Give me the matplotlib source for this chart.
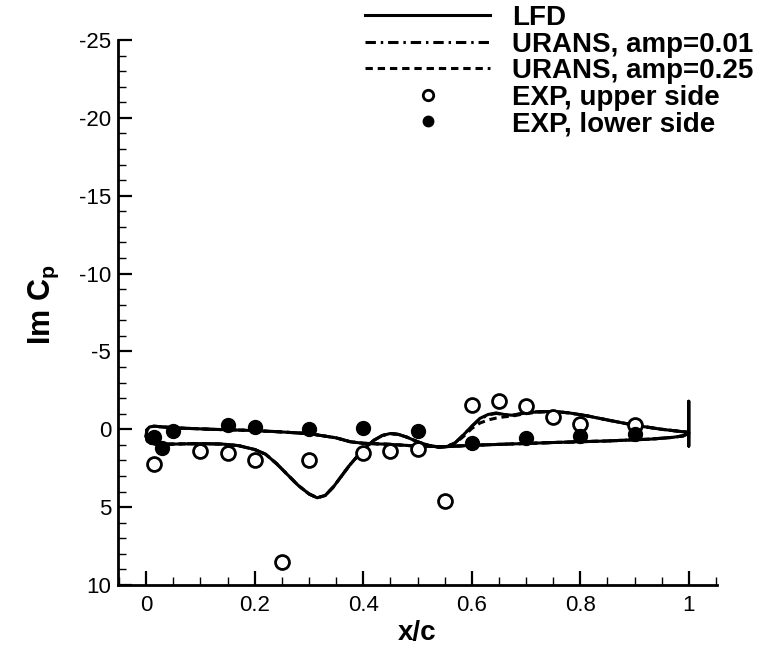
import matplotlib
matplotlib.use("Agg")
import matplotlib.pyplot as plt
from matplotlib.ticker import MultipleLocator, FuncFormatter

plt.rcParams["font.family"] = ["Liberation Sans", "DejaVu Sans"]
plt.rcParams["axes.unicode_minus"] = False
plt.rcParams["mathtext.fontset"] = "custom"
plt.rcParams["mathtext.rm"] = "Liberation Sans"
plt.rcParams["mathtext.bf"] = "Liberation Sans:bold"

# Upper surface, leading edge -> trailing edge
x_upper = [0.000, 0.002, 0.008, 0.02, 0.05, 0.10, 0.14, 0.17, 0.20, 0.22, 0.24, 0.26,
           0.28, 0.30, 0.315, 0.33, 0.345, 0.36, 0.375, 0.39, 0.405, 0.42, 0.435, 0.45,
           0.465, 0.48, 0.50, 0.52, 0.54, 0.555, 0.57, 0.585, 0.60, 0.615, 0.63, 0.645,
           0.66, 0.675, 0.69, 0.72, 0.75, 0.78, 0.81, 0.85, 0.90, 0.95, 1.00]
# Lower surface, trailing edge -> leading edge
x_lower = [1.00, 0.99, 0.97, 0.93, 0.85, 0.75, 0.65, 0.60, 0.55, 0.50, 0.45, 0.40,
           0.376, 0.35, 0.30, 0.24, 0.18, 0.12, 0.06, 0.03, 0.015, 0.006, 0.001, 0.000]

lfd_upper = [0.45, 0.75, 0.90, 0.97, 0.95, 0.92, 0.95, 1.05, 1.30, 1.60, 2.20, 2.90,
             3.60, 4.15, 4.40, 4.25, 3.70, 3.00, 2.30, 1.70, 1.15, 0.70, 0.40, 0.27,
             0.33, 0.50, 0.80, 1.03, 1.15, 1.10, 0.85, 0.35, -0.20, -0.70, -0.95, -1.05,
             -0.95, -0.90, -1.00, -1.12, -1.15, -1.05, -0.88, -0.60, -0.26, 0.00, 0.20]
lfd_lower = [0.25, 0.42, 0.52, 0.63, 0.75, 0.85, 0.97, 1.03, 1.12, 1.08, 0.97, 0.90,
             0.80, 0.55, 0.28, 0.15, 0.06, 0.00, -0.08, -0.15, -0.20, -0.15, 0.05, 0.45]
# Trailing-edge values of the LFD solution
x_te = [1.0, 1.0]
lfd_te = [-1.8, 1.08]

urans001_upper = [0.45, 0.75, 0.90, 0.97, 0.95, 0.92, 0.95, 1.05, 1.30, 1.60, 2.20, 2.90,
                  3.60, 4.15, 4.40, 4.25, 3.70, 3.00, 2.30, 1.70, 1.15, 0.70, 0.40, 0.27,
                  0.33, 0.50, 0.80, 1.03, 1.15, 1.10, 0.85, 0.35, -0.18, -0.66, -0.92, -1.02,
                  -0.94, -0.90, -1.00, -1.12, -1.15, -1.05, -0.88, -0.60, -0.26, 0.00, 0.20]
urans001_lower = [0.25, 0.42, 0.52, 0.63, 0.75, 0.85, 0.97, 1.03, 1.12, 1.08, 0.97, 0.90,
                  0.80, 0.55, 0.28, 0.15, 0.06, 0.00, -0.08, -0.15, -0.20, -0.15, 0.05, 0.45]

urans025_upper = [0.45, 0.75, 0.90, 0.97, 0.95, 0.92, 0.95, 1.05, 1.30, 1.60, 2.20, 2.90,
                  3.60, 4.15, 4.40, 4.25, 3.70, 3.00, 2.30, 1.70, 1.15, 0.70, 0.40, 0.27,
                  0.33, 0.50, 0.80, 1.03, 1.15, 1.10, 0.88, 0.45, -0.05, -0.40, -0.60, -0.72,
                  -0.80, -0.85, -0.95, -1.10, -1.15, -1.05, -0.88, -0.60, -0.26, 0.00, 0.20]
urans025_lower = [0.25, 0.42, 0.52, 0.63, 0.75, 0.85, 0.97, 1.03, 1.12, 1.08, 0.97, 0.90,
                  0.80, 0.55, 0.28, 0.15, 0.06, 0.00, -0.08, -0.15, -0.20, -0.15, 0.05, 0.45]

# Experimental data
exp_up_x = [0.015, 0.10, 0.15, 0.20, 0.25, 0.30, 0.40, 0.45, 0.50, 0.55,
            0.60, 0.65, 0.70, 0.75, 0.80, 0.90]
exp_up_y = [2.2, 1.4, 1.55, 2.0, 8.5, 2.0, 1.55, 1.4, 1.25, 4.6,
            -1.55, -1.8, -1.5, -0.8, -0.37, -0.3]
exp_lo_x = [0.015, 0.03, 0.05, 0.15, 0.20, 0.30, 0.40, 0.50, 0.60, 0.70, 0.80, 0.90]
exp_lo_y = [0.5, 1.2, 0.13, -0.3, -0.15, 0.0, -0.1, 0.13, 0.85, 0.55, 0.4, 0.3]

x_ticks = [0, 0.2, 0.4, 0.6, 0.8, 1.0]
y_ticks = [-25, -20, -15, -10, -5, 0, 5, 10]

fig = plt.figure(figsize=(7.69, 6.46), dpi=100)
ax = fig.add_axes([118 / 769, 1 - 585 / 646, (717 - 118) / 769, (585 - 40) / 646])

lw = 2.2
dashdot = (0, (3.4, 1.6, 0.8, 1.6))
dashed = (0, (2.4, 1.6))

ax.plot(x_upper + x_te + x_lower, lfd_upper + lfd_te + lfd_lower,
        color="black", lw=lw, solid_joinstyle="round", label="LFD")
ax.plot(x_upper + x_lower, urans001_upper + urans001_lower,
        color="black", lw=lw, ls=dashdot, label="URANS, amp=0.01")
ax.plot(x_upper + x_lower, urans025_upper + urans025_lower,
        color="black", lw=lw, ls=dashed, label="URANS, amp=0.25")
ax.plot(exp_up_x, exp_up_y, ls="none", marker="o", ms=10, mfc="white",
        mec="black", mew=2.0, label="EXP, upper side")
ax.plot(exp_lo_x, exp_lo_y, ls="none", marker="o", ms=10, mfc="black",
        mec="black", mew=1.0, label="EXP, lower side")

ax.set_xlim(-0.052, 1.052)
ax.set_ylim(10, -25)

ax.spines["top"].set_visible(False)
ax.spines["right"].set_visible(False)
ax.spines["left"].set_linewidth(2.0)
ax.spines["bottom"].set_linewidth(2.0)

ax.set_xticks(x_ticks)
ax.set_yticks(y_ticks)
ax.xaxis.set_minor_locator(MultipleLocator(0.05))
ax.yaxis.set_minor_locator(MultipleLocator(1))
ax.xaxis.set_major_formatter(FuncFormatter(lambda v, p: "%g" % v))
ax.yaxis.set_major_formatter(FuncFormatter(lambda v, p: "%g" % v))
ax.tick_params(which="major", direction="in", length=10, width=1.6,
               labelsize=16, pad=5)
ax.tick_params(axis="x", which="major", pad=7)
ax.tick_params(which="minor", direction="in", length=5.5, width=1.0)

ax.set_xlabel("x/c", fontsize=20, fontweight="bold", labelpad=3)
ax.set_ylabel(r"Im C$_{\mathbf{p}}$", fontsize=22, fontweight="bold")
ax.yaxis.set_label_coords(-0.095, 0.515)

leg = fig.legend(loc="upper left", bbox_to_anchor=(365 / 769, 1 - 5 / 646),
                 frameon=False, prop={"weight": "bold", "size": 20},
                 handlelength=4.5, handletextpad=0.8, labelspacing=0.02,
                 borderpad=0, borderaxespad=0, markerscale=0.75)

fig.savefig("out.png", dpi=100)
